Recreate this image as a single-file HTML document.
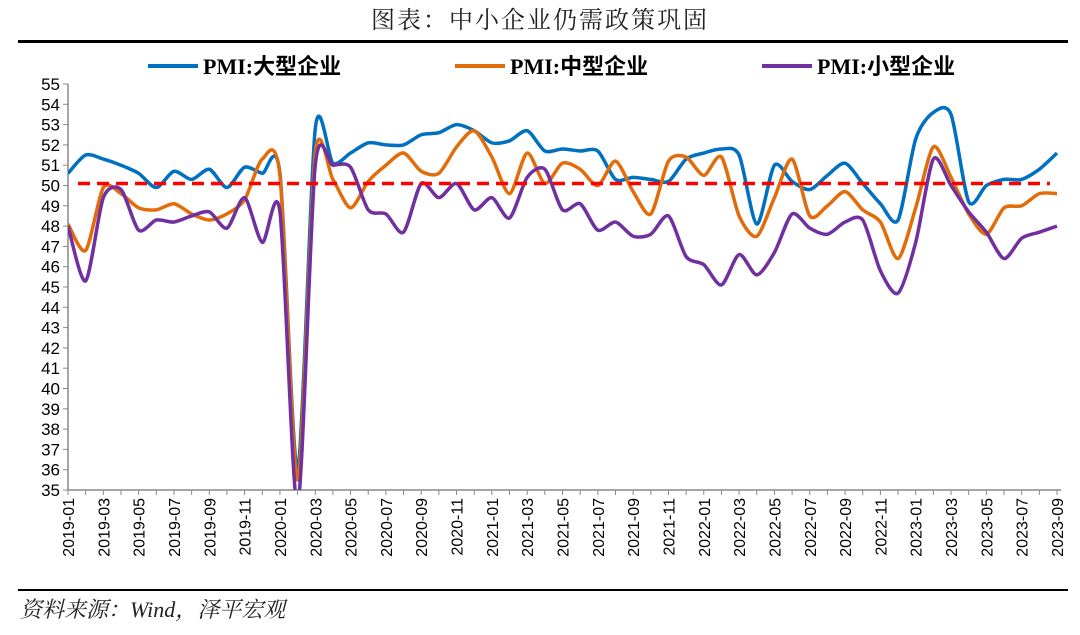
<!DOCTYPE html>
<html><head><meta charset="utf-8"><style>
body{margin:0;background:#fff;width:1080px;height:630px;overflow:hidden;font-family:"Liberation Serif","Noto Serif CJK SC",serif}
</style></head><body>
<svg id="c" width="1080" height="630" xmlns="http://www.w3.org/2000/svg">
<text x="540" y="28" text-anchor="middle" font-size="24" letter-spacing="2" font-family="Noto Serif CJK SC,serif" fill="#222">图表：中小企业仍需政策巩固</text>
<rect x="18" y="40" width="1050" height="3" fill="#000"/>
<rect x="18" y="589" width="1050" height="2" fill="#000"/>
<text x="20" y="617" font-size="22" font-style="italic" font-family="Liberation Serif,Noto Serif CJK SC,serif" fill="#222">资料来源：Wind，泽平宏观</text>
<g id="legend" font-family="Liberation Serif,Noto Sans CJK SC,serif" font-weight="bold" font-size="22">
<line x1="148" y1="66" x2="198" y2="66" stroke="#0070C0" stroke-width="4"/><text x="203" y="74">PMI:大型企业</text>
<line x1="455" y1="66" x2="505" y2="66" stroke="#E36C0A" stroke-width="4"/><text x="510" y="74">PMI:中型企业</text>
<line x1="762" y1="66" x2="812" y2="66" stroke="#7030A0" stroke-width="4"/><text x="817" y="74">PMI:小型企业</text>
</g>
<g id="axes"></g><g id="marks"></g>
</svg>
<script>
const categories=[];for(let y=2019;y<=2023;y++)for(let m=1;m<=12;m++){if(y===2023&&m>9)break;categories.push(y+'-'+String(m).padStart(2,'0'));}
const large=[50.6,51.5,51.3,51.0,50.6,49.9,50.7,50.3,50.8,49.9,50.9,50.6,50.6,36.0,52.8,51.1,51.6,52.1,52.0,52.0,52.5,52.6,53.0,52.7,52.1,52.2,52.7,51.7,51.8,51.7,51.7,50.3,50.4,50.3,50.2,51.3,51.6,51.8,51.5,48.1,51.0,50.2,49.8,50.5,51.1,50.1,49.1,48.3,52.3,53.6,53.5,49.2,50.0,50.3,50.3,50.8,51.6];
const medium=[48.1,46.8,49.9,49.6,48.9,48.8,49.1,48.6,48.3,48.6,49.3,51.3,50.5,35.5,51.6,50.3,48.9,50.2,51.0,51.6,50.7,50.6,51.9,52.7,51.4,49.6,51.6,50.1,51.1,50.8,50.0,51.2,49.7,48.6,51.2,51.4,50.5,51.4,48.5,47.5,49.4,51.3,48.5,49.0,49.7,48.8,48.2,46.4,48.9,51.9,50.4,48.6,47.6,48.9,49.0,49.6,49.6];
const small=[48.0,45.3,49.4,49.8,47.8,48.3,48.2,48.5,48.7,47.9,49.4,47.2,48.7,34.2,51.0,51.0,50.9,48.8,48.6,47.7,50.1,49.4,50.1,48.8,49.4,48.4,50.4,50.8,48.8,49.1,47.8,48.2,47.5,47.6,48.5,46.5,46.1,45.1,46.6,45.6,46.7,48.6,47.9,47.6,48.2,48.3,45.8,44.7,47.2,51.3,50.0,48.7,47.7,46.4,47.4,47.7,48.0];
const yTicks=[35,36,37,38,39,40,41,42,43,44,45,46,47,48,49,50,51,52,53,54,55];
const refLine=[50.1];
const X0=68,X1=1057,Y0=490,Y1=84;
const xs=i=>X0+(X1-X0)*i/(categories.length-1);
const ys=v=>Y0-(v-35)/(55-35)*(Y0-Y1);
const NS='http://www.w3.org/2000/svg';
function mk(t,a,p){const e=document.createElementNS(NS,t);for(const k in a)e.setAttribute(k,a[k]);p.appendChild(e);return e;}
const ax=document.getElementById('axes'),mg=document.getElementById('marks');
let e=mk('line',{x1:X0,y1:Y1,x2:X0,y2:Y0,stroke:'#888','stroke-width':1.5},ax);

e=mk('line',{x1:X0,y1:Y0,x2:X1+4,y2:Y0,stroke:'#888','stroke-width':1.5},ax);

yTicks.forEach(v=>{mk('line',{x1:X0-5,y1:ys(v),x2:X0,y2:ys(v),stroke:'#888'},ax);
const t=mk('text',{x:X0-8,y:ys(v)+6,'text-anchor':'end','font-size':17,'font-family':'Liberation Sans,sans-serif'},ax);t.textContent=v;
});
categories.forEach((c,i)=>{mk('line',{x1:xs(i),y1:Y0,x2:xs(i),y2:Y0+5,stroke:'#888'},ax);
if(i%2===0){const t=mk('text',{x:0,y:0,transform:`translate(${xs(i)+6},${Y0+8}) rotate(-90)`,'text-anchor':'end','font-size':16,'font-family':'Liberation Sans,sans-serif'},ax);t.textContent=c;
}});
function path(d){const p=d.map((v,i)=>[xs(i),ys(v)]);let s=`M${p[0][0]},${p[0][1]}`;const k=7.5;
for(let i=0;i<p.length-1;i++){const a=p[i-1]||p[i],b=p[i],c=p[i+1],q=p[i+2]||c;
s+=`C${b[0]+(c[0]-a[0])/k},${b[1]+(c[1]-a[1])/k} ${c[0]-(q[0]-b[0])/k},${c[1]-(q[1]-b[1])/k} ${c[0]},${c[1]}`;}return s;}
const clip=mk('clipPath',{id:'cl'},mg);mk('rect',{x:X0,y:Y1-20,width:X1-X0+10,height:Y0-Y1+20},clip);
[[large,'#0070C0','line-large'],[medium,'#E36C0A','line-medium'],[small,'#7030A0','line-small']].forEach(([d,col,n])=>{
const p=mk('path',{d:path(d),fill:'none',stroke:col,'stroke-width':3.5,'clip-path':'url(#cl)'},mg);
});
e=mk('line',{x1:78,y1:ys(refLine[0]),x2:1050,y2:ys(refLine[0]),stroke:'#FF0000','stroke-width':3.5,'stroke-dasharray':'12 7'},mg);

</script>
</body></html>
